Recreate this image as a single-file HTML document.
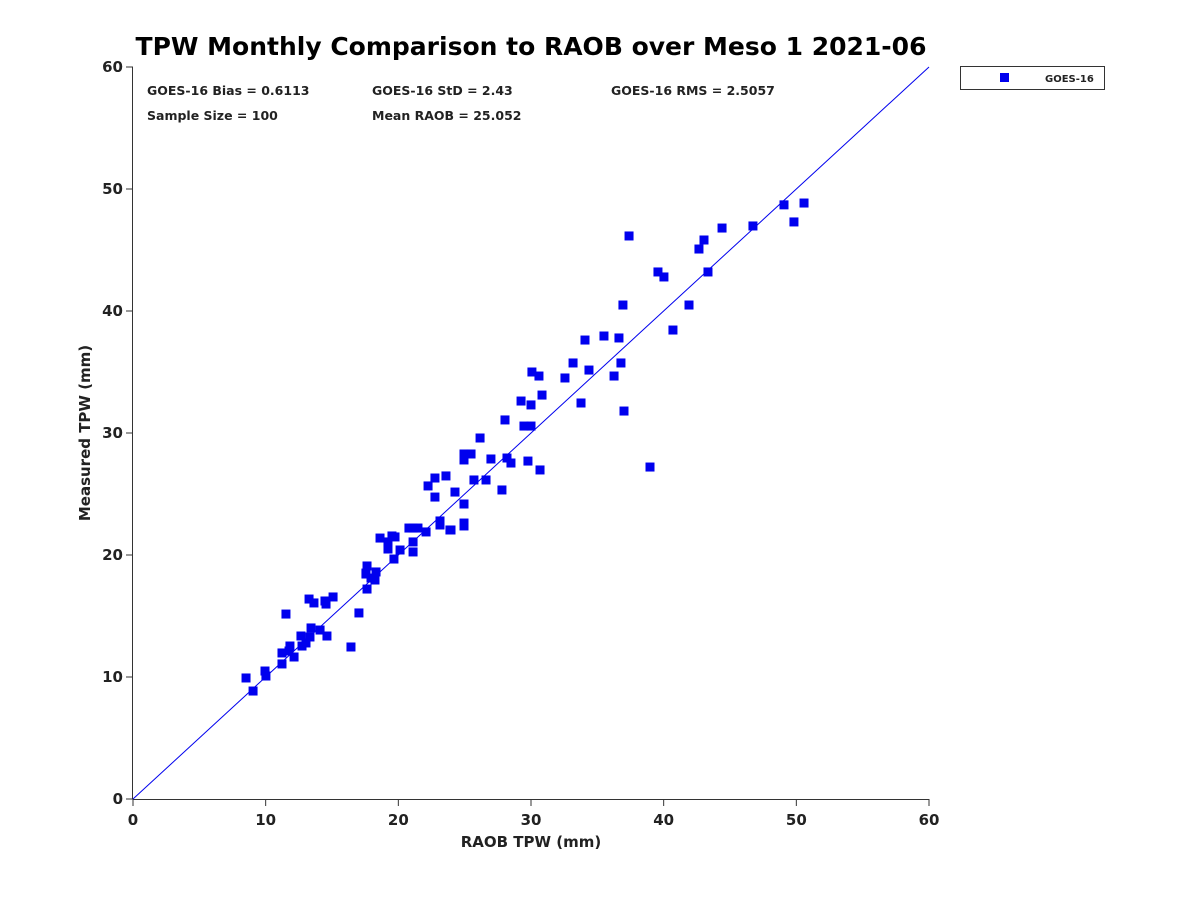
<!DOCTYPE html>
<html><head><meta charset="utf-8"><style>
body{margin:0;background:#fff;}
svg text{font-family:"DejaVu Sans","Liberation Sans",sans-serif;font-weight:bold;fill:#222;}
</style></head><body>
<svg id="c" width="1200" height="900" xmlns="http://www.w3.org/2000/svg">
<text x="531" y="55" font-size="25" text-anchor="middle" style="fill:#000">TPW Monthly Comparison to RAOB over Meso 1 2021-06</text>
<g font-size="12.5">
<text x="147" y="95">GOES-16 Bias = 0.6113</text>
<text x="372" y="95">GOES-16 StD = 2.43</text>
<text x="611" y="95">GOES-16 RMS = 2.5057</text>
<text x="147" y="120">Sample Size = 100</text>
<text x="372" y="120">Mean RAOB = 25.052</text>
</g>
<g>
<rect x="960.5" y="66.5" width="144" height="23" fill="#fff" stroke="#333"/>
<rect x="1000" y="73" width="9" height="9" fill="#0000ee"/>
<text x="1045" y="82" font-size="10">GOES-16</text>
</g>
<g id="axes"></g>
<text x="531" y="847" font-size="15" text-anchor="middle">RAOB TPW (mm)</text>
<text transform="translate(90,433) rotate(-90)" font-size="15" text-anchor="middle">Measured TPW (mm)</text>
</svg>
<script>
const xTicks=[0,10,20,30,40,50,60];
const yTicks=[0,10,20,30,40,50,60];
const raob=[8.52,9.05,9.95,10.02,11.23,11.23,11.53,11.76,11.83,12.14,12.66,12.74,13.04,13.27,13.34,13.42,13.64,14.10,14.47,14.55,14.62,15.08,16.43,17.03,17.56,17.56,17.64,17.64,17.94,18.24,18.32,18.62,19.22,19.22,19.52,19.67,19.75,20.13,20.80,21.11,21.11,21.11,21.48,22.09,22.24,22.76,22.76,23.14,23.14,23.59,23.89,23.97,24.27,24.95,24.95,24.95,24.95,24.95,25.48,25.70,26.16,26.61,26.98,27.81,28.04,28.19,28.49,29.25,29.47,29.77,30.00,30.00,30.07,30.60,30.68,30.83,32.56,33.17,33.77,34.07,34.37,35.50,36.26,36.63,36.78,36.93,37.01,37.39,38.97,39.57,40.02,40.70,41.91,42.66,43.04,43.34,44.40,46.73,49.07,49.82,50.58];
const goes=[9.92,8.85,10.49,10.08,11.07,11.97,15.16,12.13,12.54,11.64,13.36,12.54,12.79,16.39,13.28,14.02,16.07,13.85,16.23,15.98,13.36,16.56,12.46,15.25,18.44,18.52,19.10,17.21,18.11,17.95,18.61,21.39,21.07,20.49,21.56,19.67,21.48,20.41,22.21,22.21,21.07,20.25,22.21,21.89,25.66,26.31,24.75,22.79,22.46,26.48,22.05,22.05,25.16,28.28,27.79,24.18,22.38,22.62,28.28,26.15,29.59,26.15,27.87,25.33,31.07,27.95,27.54,32.62,30.57,27.70,30.57,32.30,35.00,34.67,26.97,33.11,34.51,35.74,32.46,37.62,35.16,37.95,34.67,37.79,35.74,40.49,31.80,46.15,27.21,43.20,42.79,38.44,40.49,45.08,45.82,43.20,46.80,46.97,48.70,47.30,48.85];
const X0=133,X1=929,Y0=799,Y1=67;
const sx=v=>X0+(v-0)/60*(X1-X0);
const sy=v=>Y0-(v-0)/60*(Y0-Y1);
const NS='http://www.w3.org/2000/svg';
const g=document.getElementById('axes');
function mk(t,a){const e=document.createElementNS(NS,t);for(const k in a)e.setAttribute(k,a[k]);g.appendChild(e);return e;}
let e=mk('line',{x1:X0,y1:Y0+0.5,x2:X1,y2:Y0+0.5,stroke:'#333'});


e=mk('line',{x1:X0-0.5,y1:Y1,x2:X0-0.5,y2:Y0,stroke:'#333'});


xTicks.forEach(t=>{
  const l=mk('line',{x1:sx(t),y1:Y0,x2:sx(t),y2:Y0+7,stroke:'#333'});
  
  
  const tx=mk('text',{x:sx(t),y:Y0+26,'font-size':15,'text-anchor':'middle'});tx.textContent=t;
  
  
});
yTicks.forEach(t=>{
  const l=mk('line',{x1:X0-7,y1:sy(t),x2:X0,y2:sy(t),stroke:'#333'});
  
  
  const tx=mk('text',{x:X0-10,y:sy(t)+5,'font-size':15,'text-anchor':'end'});tx.textContent=t;
  
  
});
e=mk('line',{x1:sx(0),y1:sy(0),x2:sx(60),y2:sy(60),stroke:'#0000ee','stroke-width':1});


raob.forEach((v,i)=>{
  const r=mk('rect',{x:sx(v)-4.5,y:sy(goes[i])-4.5,width:9,height:9,fill:'#0000ee'});
  
  
});
</script>
</body></html>
